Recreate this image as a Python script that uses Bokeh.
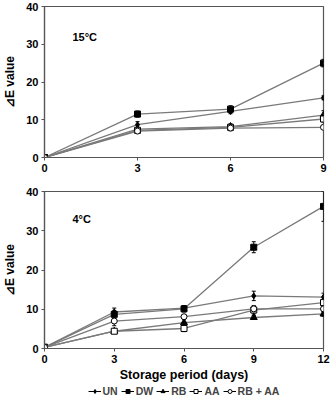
from bokeh.plotting import figure
from bokeh.layouts import column
from bokeh.models import ColumnDataSource, Whisker, TeeHead, Legend, LegendItem, FixedTicker, Range1d
from bokeh.core.properties import value
from bokeh.embed import file_html
from bokeh.resources import INLINE

# Storage days for each temperature
days_15 = [0, 3, 6, 9]
days_4 = [0, 3, 6, 9, 12]

# Delta E values at 15 °C
un_15 = [0.0, 8.7, 12.2, 15.8]
dw_15 = [0.0, 11.5, 12.8, 25.0]
rb_15 = [0.0, 7.5, 8.2, 11.2]
aa_15 = [0.0, 7.2, 8.0, 10.2]
rbaa_15 = [0.0, 7.0, 7.8, 8.0]

un_15_err = [0.0, 0.8, 0.6, 0.5]
dw_15_err = [0.0, 0.8, 0.9, 1.0]
rb_15_err = [0.0, 0.5, 0.5, 1.2]
aa_15_err = [0.0, 0.5, 0.9, 0.8]
rbaa_15_err = [0.0, 0.4, 0.5, 0.5]

# Delta E values at 4 °C
un_4 = [0.3, 9.3, 10.3, 13.4, 13.1]
dw_4 = [0.3, 8.7, 10.1, 25.8, 36.2]
rb_4 = [0.3, 4.4, 6.6, 7.9, 8.8]
aa_4 = [0.3, 4.4, 5.1, 9.8, 11.7]
rbaa_4 = [0.3, 7.0, 8.1, 10.1, 10.1]

un_4_err = [0.0, 1.0, 0.6, 1.2, 1.0]
dw_4_err = [0.0, 1.0, 0.8, 1.4, 3.8]
rb_4_err = [0.0, 0.4, 0.8, 0.5, 0.6]
aa_4_err = [0.0, 0.5, 0.8, 1.0, 1.2]
rbaa_4_err = [0.0, 1.2, 0.5, 0.8, 0.8]

series_names = ["UN", "DW", "RB", "AA", "RB + AA"]
FONT = "Liberation Sans"
LINE_C = "#7a7a7a"
FRAME_C = "#555555"

# marker style per series: (marker, size, fill)
styles = {
    "UN": ("diamond", 6, "black"),
    "DW": ("square", 6, "black"),
    "RB": ("triangle", 7, "black"),
    "AA": ("square", 6, "white"),
    "RB + AA": ("circle", 6, "white"),
}


def make_panel(days, values, errors, label, label_x, label_y, height, top, bottom, xmax, show_xlabel):
    p = figure(width=330, height=height, output_backend="svg", toolbar_location=None,
               x_range=Range1d(0, xmax), y_range=Range1d(0, 40),
               min_border_left=38, min_border_right=7,
               min_border_top=top, min_border_bottom=bottom)
    p.outline_line_color = FRAME_C
    p.outline_line_width = 1.2
    p.background_fill_color = "white"
    p.border_fill_color = "white"
    p.grid.visible = False

    for ax in (p.xaxis[0], p.yaxis[0]):
        ax.axis_line_color = FRAME_C
        ax.axis_line_width = 1.2
        ax.major_tick_line_color = FRAME_C
        ax.major_tick_in = 0
        ax.major_tick_out = 3
        ax.minor_tick_line_color = None
        ax.major_label_text_font = FONT
        ax.major_label_text_font_style = "bold"
        ax.major_label_text_font_size = "11px"
        ax.major_label_text_color = "black"
        ax.major_label_standoff = 3
    p.xaxis.ticker = FixedTicker(ticks=days)
    p.yaxis.ticker = FixedTicker(ticks=[0, 10, 20, 30, 40])

    p.yaxis.axis_label = "⊿E value"
    p.yaxis.axis_label_text_font = FONT
    p.yaxis.axis_label_text_font_style = "bold"
    p.yaxis.axis_label_text_font_size = "12px"
    p.yaxis.axis_label_text_color = "black"
    p.yaxis.axis_label_standoff = 6
    if show_xlabel:
        p.xaxis.axis_label = "Storage period (days)"
        p.xaxis.axis_label_text_font = FONT
        p.xaxis.axis_label_text_font_style = "bold"
        p.xaxis.axis_label_text_font_size = "12.5px"
        p.xaxis.axis_label_text_color = "black"
        p.xaxis.axis_label_standoff = 2

    for name in series_names:
        ys = values[name]
        es = errors[name]
        src = ColumnDataSource(dict(x=days, y=ys,
                                    lo=[y - e for y, e in zip(ys, es)],
                                    hi=[y + e for y, e in zip(ys, es)]))
        w = Whisker(base="x", upper="hi", lower="lo", source=src,
                    line_color="black", line_width=1,
                    upper_head=TeeHead(size=4, line_color="black", line_width=1),
                    lower_head=TeeHead(size=4, line_color="black", line_width=1))
        p.add_layout(w)
        p.line("x", "y", source=src, line_color=LINE_C, line_width=1.3)
        mk, sz, fill = styles[name]
        p.scatter("x", "y", source=src, marker=mk, size=sz,
                  fill_color=fill, line_color="black", line_width=1)

    p.text(x=[label_x], y=[label_y], text=[label],
           text_font=value(FONT), text_font_style="bold", text_font_size="11px",
           text_align="left", text_baseline="middle", text_color="black")
    return p


top_vals = {"UN": un_15, "DW": dw_15, "RB": rb_15, "AA": aa_15, "RB + AA": rbaa_15}
top_errs = {"UN": un_15_err, "DW": dw_15_err, "RB": rb_15_err, "AA": aa_15_err, "RB + AA": rbaa_15_err}
bot_vals = {"UN": un_4, "DW": dw_4, "RB": rb_4, "AA": aa_4, "RB + AA": rbaa_4}
bot_errs = {"UN": un_4_err, "DW": dw_4_err, "RB": rb_4_err, "AA": aa_4_err, "RB + AA": rbaa_4_err}

p1 = make_panel(days_15, top_vals, top_errs, "15°C", 0.9, 31.8, 180, 6, 23, 9, False)
p2 = make_panel(days_4, bot_vals, bot_errs, "4°C", 1.2, 33.0, 204, 11, 31, 12, True)

# shared key strip under the lower panel; the proxy glyphs sit outside its range
key = figure(width=330, height=13, output_backend="svg", toolbar_location=None,
             x_range=Range1d(0, 1), y_range=Range1d(0, 1),
             x_axis_location=None, y_axis_location=None,
             min_border=0, min_border_left=32, outline_line_color=None)
key.grid.visible = False
items = []
for name in series_names:
    mk, sz, fill = styles[name]
    ln = key.line([-5, -4], [-5, -5], line_color="black", line_width=1)
    sc = key.scatter([-5], [-5], marker=mk, size=sz - 1, fill_color=fill,
                     line_color="black", line_width=1)
    items.append(LegendItem(label=name, renderers=[ln, sc]))
legend = Legend(items=items, orientation="horizontal", location="center",
                label_text_font=FONT, label_text_font_style="bold",
                label_text_font_size="10.5px", glyph_width=13, glyph_height=10,
                label_standoff=2, label_width=0, spacing=3, padding=0, margin=0,
                label_height=10, border_line_color=None, background_fill_alpha=0)
key.add_layout(legend)

layout = column(p1, p2, key, spacing=0)
open("out.html", "w").write(file_html(layout, INLINE))
